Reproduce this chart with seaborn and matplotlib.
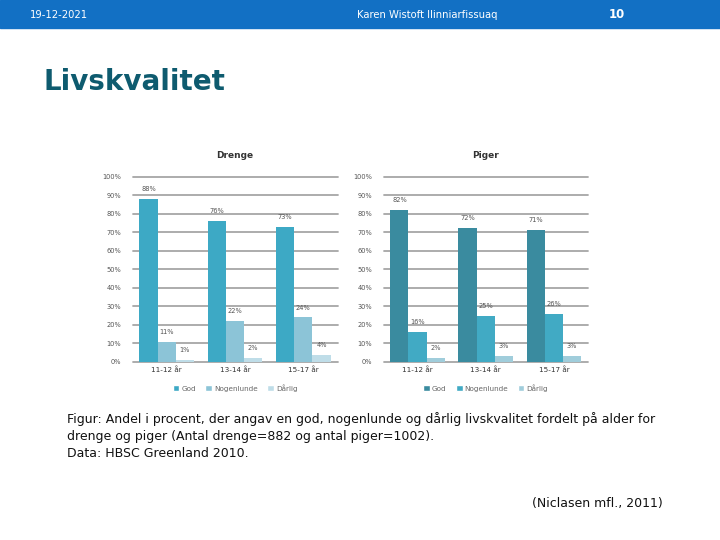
import pandas as pd
import matplotlib.pyplot as plt
import seaborn as sns
from matplotlib.patches import Rectangle, Patch

# Data
ages = ['11-12 år', '13-14 år', '15-17 år']
answers = ['God', 'Nogenlunde', 'Dårlig']

drenge_god = [88, 76, 73]
drenge_nogenlunde = [11, 22, 24]
drenge_darlig = [1, 2, 4]

piger_god = [82, 72, 71]
piger_nogenlunde = [16, 25, 26]
piger_darlig = [2, 3, 3]

drenge_colors = ['#3DA9C5', '#8CC4D7', '#BFDDE8']
piger_colors = ['#3A8B9F', '#41AAC4', '#A0CDDB']


def long_frame(god, nogen, darlig):
    rows = []
    for name, vals in zip(answers, [god, nogen, darlig]):
        for age, v in zip(ages, vals):
            rows.append({'Alder': age, 'Svar': name, 'Andel': v})
    return pd.DataFrame(rows)


def draw_panel(ax, df, colors, title):
    sns.barplot(data=df, x='Alder', y='Andel', hue='Svar', hue_order=answers,
                palette=colors, ax=ax, width=0.8, legend=False, saturation=1,
                linewidth=0)
    ax.set_ylim(0, 100)
    ax.set_xlim(-0.5, 2.5)
    ax.set_yticks(range(0, 101, 10))
    ax.set_yticklabels([f'{t}%' for t in range(0, 101, 10)])
    ax.grid(axis='y', color='#A6A6A6', linewidth=1.3)
    for line in ax.get_ygridlines():
        line.set_clip_on(False)
    ax.set_axisbelow(True)
    for s in ax.spines.values():
        s.set_visible(False)
    ax.tick_params(axis='y', length=0, labelsize=4.8, labelcolor='#555555', pad=8)
    ax.tick_params(axis='x', length=0, labelsize=5.2, labelcolor='#333333', pad=3)
    ax.set_xlabel('')
    ax.set_ylabel('')
    ax.set_title(title, fontsize=6.5, fontweight='bold', color='#333333', pad=13)
    for cont in ax.containers:
        ax.bar_label(cont, fmt='%d%%', fontsize=4.8, color='#555555', padding=5)
    handles = [Patch(facecolor=c, label=a) for c, a in zip(colors, answers)]
    ax.legend(handles=handles, loc='upper center', bbox_to_anchor=(0.5, -0.085),
              ncol=3, frameon=False, fontsize=5.2, handlelength=0.9,
              handleheight=0.9, handletextpad=0.3, columnspacing=1.3,
              labelcolor='#666666')


sns.set_style('white')
plt.rcParams['font.family'] = ['DejaVu Sans']

fig = plt.figure(figsize=(7.2, 5.4), dpi=100)

# header band
fig.add_artist(Rectangle((0, 1 - 28 / 540), 1, 28 / 540, transform=fig.transFigure,
                         color='#1270C4', zorder=0))
fig.text(30 / 720, 1 - 15 / 540, '19-12-2021', color='white', fontsize=7.2, va='center')
fig.text(357 / 720, 1 - 15 / 540, 'Karen Wistoft Ilinniarfissuaq', color='white',
         fontsize=7.2, va='center')
fig.text(609 / 720, 1 - 15 / 540, '10', color='white', fontsize=8.5,
         fontweight='bold', va='center')

fig.text(43 / 720, 1 - 82 / 540, 'Livskvalitet', color='#0E5B6F', fontsize=20,
         fontweight='bold', va='center')

bottom = 178 / 540
height = (362 - 176.5) / 540
ax1 = fig.add_axes([132.5 / 720, bottom, 205 / 720, height])
ax2 = fig.add_axes([383.5 / 720, bottom, 204.5 / 720, height])

draw_panel(ax1, long_frame(drenge_god, drenge_nogenlunde, drenge_darlig),
           drenge_colors, 'Drenge')
draw_panel(ax2, long_frame(piger_god, piger_nogenlunde, piger_darlig),
           piger_colors, 'Piger')

caption = ('Figur: Andel i procent, der angav en god, nogenlunde og dårlig livskvalitet fordelt på alder for\n'
           'drenge og piger (Antal drenge=882 og antal piger=1002).\n'
           'Data: HBSC Greenland 2010.')
fig.text(67 / 720, 1 - 412 / 540, caption, fontsize=9.0, color='#111111',
         va='top', linespacing=1.4)
fig.text(663 / 720, 1 - 503 / 540, '(Niclasen mfl., 2011)', fontsize=9.0,
         color='#111111', ha='right', va='center')

fig.savefig('out.png', dpi=100)
